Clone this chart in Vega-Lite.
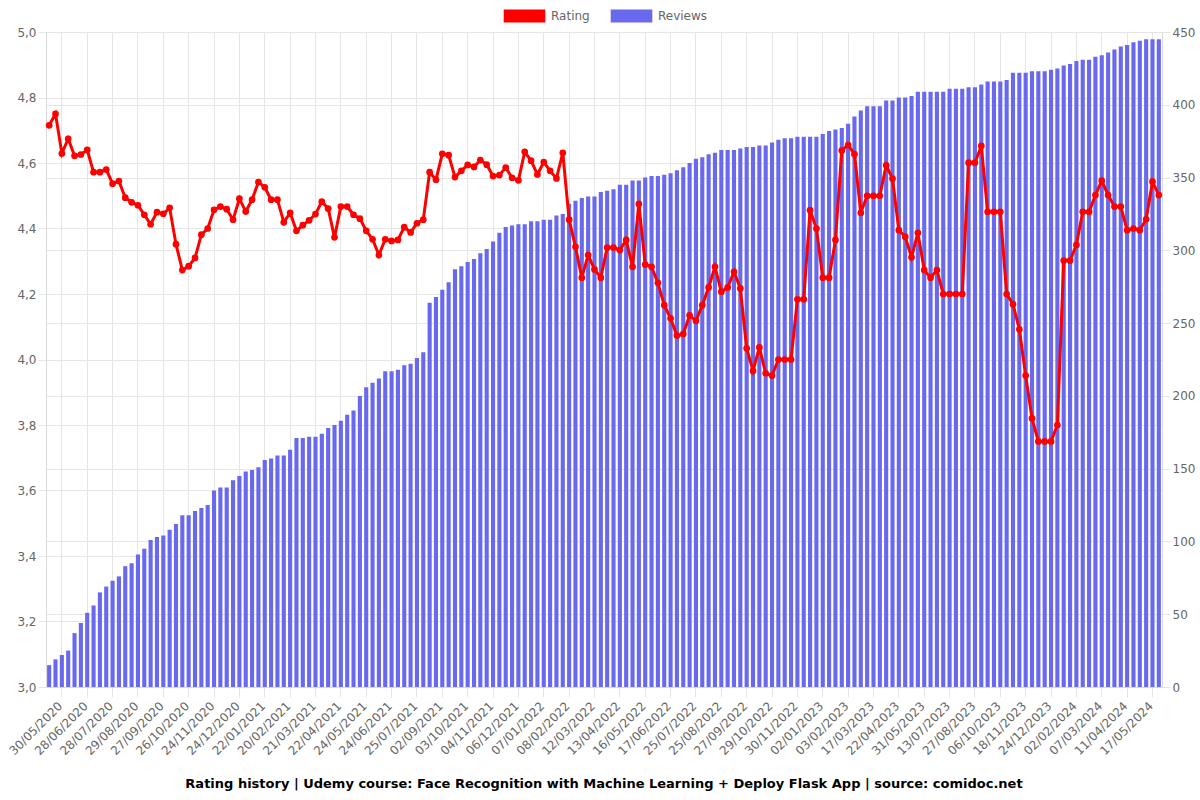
{
  "$schema": "https://vega.github.io/schema/vega-lite/v6.json",
  "width": 1116,
  "height": 655,
  "autosize": {"type": "none"},
  "padding": {"left": 46, "top": 32, "right": 38, "bottom": 113},
  "background": "white",
  "config": {
    "font": "DejaVu Sans",
    "view": {"stroke": null},
    "axis": {"labelColor": "#666666", "labelFontSize": 12, "gridColor": "#e6e6e6", "tickColor": "#e6e6e6", "domainColor": "#d9d9d9", "tickSize": 8, "labelPadding": 2}
  },
  "title": {"text": "Rating history | Udemy course: Face Recognition with Machine Learning + Deploy Flask  App | source: comidoc.net", "orient": "bottom", "anchor": "middle", "fontSize": 13, "fontWeight": "bold", "color": "#000000", "offset": 21},
  "data": {"values": [
    {"date":"16/05/2020","rating":4.715,"reviews":15},
    {"date":"23/05/2020","rating":4.75,"reviews":19},
    {"date":"30/05/2020","rating":4.629,"reviews":22},
    {"date":"07/06/2020","rating":4.674,"reviews":25},
    {"date":"14/06/2020","rating":4.622,"reviews":37},
    {"date":"21/06/2020","rating":4.626,"reviews":44},
    {"date":"28/06/2020","rating":4.64,"reviews":51},
    {"date":"06/07/2020","rating":4.572,"reviews":56},
    {"date":"13/07/2020","rating":4.572,"reviews":65},
    {"date":"21/07/2020","rating":4.58,"reviews":69},
    {"date":"28/07/2020","rating":4.537,"reviews":73},
    {"date":"05/08/2020","rating":4.545,"reviews":76},
    {"date":"13/08/2020","rating":4.494,"reviews":83},
    {"date":"21/08/2020","rating":4.48,"reviews":85},
    {"date":"29/08/2020","rating":4.471,"reviews":91},
    {"date":"05/09/2020","rating":4.442,"reviews":95},
    {"date":"12/09/2020","rating":4.413,"reviews":101},
    {"date":"20/09/2020","rating":4.45,"reviews":103},
    {"date":"27/09/2020","rating":4.445,"reviews":104},
    {"date":"04/10/2020","rating":4.463,"reviews":108},
    {"date":"11/10/2020","rating":4.352,"reviews":112},
    {"date":"19/10/2020","rating":4.273,"reviews":118},
    {"date":"26/10/2020","rating":4.285,"reviews":118},
    {"date":"02/11/2020","rating":4.31,"reviews":121},
    {"date":"09/11/2020","rating":4.381,"reviews":123},
    {"date":"17/11/2020","rating":4.4,"reviews":125},
    {"date":"24/11/2020","rating":4.457,"reviews":135},
    {"date":"02/12/2020","rating":4.467,"reviews":137},
    {"date":"09/12/2020","rating":4.459,"reviews":137},
    {"date":"17/12/2020","rating":4.427,"reviews":142},
    {"date":"24/12/2020","rating":4.491,"reviews":145},
    {"date":"31/12/2020","rating":4.452,"reviews":148},
    {"date":"07/01/2021","rating":4.488,"reviews":149},
    {"date":"15/01/2021","rating":4.542,"reviews":151},
    {"date":"22/01/2021","rating":4.526,"reviews":156},
    {"date":"29/01/2021","rating":4.488,"reviews":157},
    {"date":"05/02/2021","rating":4.488,"reviews":159},
    {"date":"13/02/2021","rating":4.419,"reviews":159},
    {"date":"20/02/2021","rating":4.448,"reviews":163},
    {"date":"27/02/2021","rating":4.393,"reviews":171},
    {"date":"06/03/2021","rating":4.41,"reviews":171},
    {"date":"14/03/2021","rating":4.425,"reviews":172},
    {"date":"21/03/2021","rating":4.444,"reviews":172},
    {"date":"29/03/2021","rating":4.482,"reviews":174},
    {"date":"06/04/2021","rating":4.461,"reviews":178},
    {"date":"14/04/2021","rating":4.373,"reviews":180},
    {"date":"22/04/2021","rating":4.467,"reviews":183},
    {"date":"30/04/2021","rating":4.467,"reviews":187},
    {"date":"08/05/2021","rating":4.442,"reviews":190},
    {"date":"16/05/2021","rating":4.43,"reviews":200},
    {"date":"24/05/2021","rating":4.393,"reviews":206},
    {"date":"01/06/2021","rating":4.367,"reviews":209},
    {"date":"08/06/2021","rating":4.319,"reviews":212},
    {"date":"16/06/2021","rating":4.367,"reviews":217},
    {"date":"24/06/2021","rating":4.362,"reviews":217},
    {"date":"02/07/2021","rating":4.365,"reviews":218},
    {"date":"09/07/2021","rating":4.404,"reviews":221},
    {"date":"17/07/2021","rating":4.388,"reviews":222},
    {"date":"25/07/2021","rating":4.416,"reviews":226},
    {"date":"04/08/2021","rating":4.427,"reviews":230},
    {"date":"14/08/2021","rating":4.572,"reviews":264},
    {"date":"24/08/2021","rating":4.549,"reviews":268},
    {"date":"02/09/2021","rating":4.628,"reviews":273},
    {"date":"10/09/2021","rating":4.624,"reviews":278},
    {"date":"17/09/2021","rating":4.557,"reviews":287},
    {"date":"25/09/2021","rating":4.576,"reviews":289},
    {"date":"03/10/2021","rating":4.594,"reviews":292},
    {"date":"11/10/2021","rating":4.588,"reviews":294},
    {"date":"19/10/2021","rating":4.609,"reviews":298},
    {"date":"27/10/2021","rating":4.595,"reviews":301},
    {"date":"04/11/2021","rating":4.56,"reviews":306},
    {"date":"12/11/2021","rating":4.563,"reviews":312},
    {"date":"20/11/2021","rating":4.586,"reviews":316},
    {"date":"28/11/2021","rating":4.555,"reviews":317},
    {"date":"06/12/2021","rating":4.547,"reviews":318},
    {"date":"14/12/2021","rating":4.634,"reviews":318},
    {"date":"22/12/2021","rating":4.607,"reviews":320},
    {"date":"30/12/2021","rating":4.565,"reviews":320},
    {"date":"07/01/2022","rating":4.603,"reviews":321},
    {"date":"15/01/2022","rating":4.576,"reviews":321},
    {"date":"23/01/2022","rating":4.553,"reviews":324},
    {"date":"31/01/2022","rating":4.631,"reviews":325},
    {"date":"08/02/2022","rating":4.427,"reviews":332},
    {"date":"16/02/2022","rating":4.344,"reviews":334},
    {"date":"24/02/2022","rating":4.25,"reviews":336},
    {"date":"04/03/2022","rating":4.319,"reviews":337},
    {"date":"12/03/2022","rating":4.275,"reviews":337},
    {"date":"20/03/2022","rating":4.25,"reviews":340},
    {"date":"28/03/2022","rating":4.342,"reviews":341},
    {"date":"05/04/2022","rating":4.342,"reviews":342},
    {"date":"13/04/2022","rating":4.334,"reviews":345},
    {"date":"21/04/2022","rating":4.365,"reviews":345},
    {"date":"29/04/2022","rating":4.283,"reviews":348},
    {"date":"07/05/2022","rating":4.475,"reviews":348},
    {"date":"16/05/2022","rating":4.29,"reviews":350},
    {"date":"24/05/2022","rating":4.283,"reviews":351},
    {"date":"01/06/2022","rating":4.234,"reviews":351},
    {"date":"09/06/2022","rating":4.166,"reviews":352},
    {"date":"17/06/2022","rating":4.126,"reviews":353},
    {"date":"26/06/2022","rating":4.073,"reviews":355},
    {"date":"06/07/2022","rating":4.078,"reviews":357},
    {"date":"15/07/2022","rating":4.135,"reviews":360},
    {"date":"25/07/2022","rating":4.118,"reviews":363},
    {"date":"02/08/2022","rating":4.166,"reviews":364},
    {"date":"10/08/2022","rating":4.22,"reviews":366},
    {"date":"17/08/2022","rating":4.283,"reviews":367},
    {"date":"25/08/2022","rating":4.207,"reviews":369},
    {"date":"02/09/2022","rating":4.22,"reviews":369},
    {"date":"10/09/2022","rating":4.268,"reviews":369},
    {"date":"19/09/2022","rating":4.217,"reviews":370},
    {"date":"27/09/2022","rating":4.034,"reviews":371},
    {"date":"05/10/2022","rating":3.965,"reviews":371},
    {"date":"13/10/2022","rating":4.037,"reviews":372},
    {"date":"21/10/2022","rating":3.958,"reviews":372},
    {"date":"29/10/2022","rating":3.951,"reviews":374},
    {"date":"06/11/2022","rating":4.0,"reviews":376},
    {"date":"14/11/2022","rating":4.0,"reviews":377},
    {"date":"22/11/2022","rating":4.0,"reviews":377},
    {"date":"30/11/2022","rating":4.184,"reviews":378},
    {"date":"08/12/2022","rating":4.184,"reviews":378},
    {"date":"16/12/2022","rating":4.456,"reviews":378},
    {"date":"25/12/2022","rating":4.4,"reviews":378},
    {"date":"02/01/2023","rating":4.25,"reviews":380},
    {"date":"10/01/2023","rating":4.25,"reviews":382},
    {"date":"18/01/2023","rating":4.365,"reviews":383},
    {"date":"26/01/2023","rating":4.638,"reviews":384},
    {"date":"03/02/2023","rating":4.655,"reviews":387},
    {"date":"14/02/2023","rating":4.627,"reviews":392},
    {"date":"24/02/2023","rating":4.448,"reviews":396},
    {"date":"07/03/2023","rating":4.5,"reviews":399},
    {"date":"17/03/2023","rating":4.5,"reviews":399},
    {"date":"26/03/2023","rating":4.5,"reviews":399},
    {"date":"04/04/2023","rating":4.593,"reviews":403},
    {"date":"13/04/2023","rating":4.552,"reviews":403},
    {"date":"22/04/2023","rating":4.395,"reviews":405},
    {"date":"02/05/2023","rating":4.375,"reviews":405},
    {"date":"12/05/2023","rating":4.312,"reviews":406},
    {"date":"21/05/2023","rating":4.387,"reviews":409},
    {"date":"31/05/2023","rating":4.273,"reviews":409},
    {"date":"11/06/2023","rating":4.25,"reviews":409},
    {"date":"22/06/2023","rating":4.273,"reviews":409},
    {"date":"02/07/2023","rating":4.2,"reviews":409},
    {"date":"13/07/2023","rating":4.2,"reviews":411},
    {"date":"24/07/2023","rating":4.2,"reviews":411},
    {"date":"04/08/2023","rating":4.2,"reviews":411},
    {"date":"16/08/2023","rating":4.601,"reviews":412},
    {"date":"27/08/2023","rating":4.601,"reviews":412},
    {"date":"06/09/2023","rating":4.652,"reviews":414},
    {"date":"16/09/2023","rating":4.451,"reviews":416},
    {"date":"26/09/2023","rating":4.451,"reviews":416},
    {"date":"06/10/2023","rating":4.451,"reviews":416},
    {"date":"17/10/2023","rating":4.2,"reviews":417},
    {"date":"28/10/2023","rating":4.169,"reviews":422},
    {"date":"07/11/2023","rating":4.092,"reviews":422},
    {"date":"18/11/2023","rating":3.951,"reviews":422},
    {"date":"27/11/2023","rating":3.82,"reviews":423},
    {"date":"06/12/2023","rating":3.75,"reviews":423},
    {"date":"15/12/2023","rating":3.75,"reviews":423},
    {"date":"24/12/2023","rating":3.75,"reviews":424},
    {"date":"03/01/2024","rating":3.8,"reviews":425},
    {"date":"13/01/2024","rating":4.302,"reviews":427},
    {"date":"23/01/2024","rating":4.302,"reviews":428},
    {"date":"02/02/2024","rating":4.35,"reviews":430},
    {"date":"10/02/2024","rating":4.451,"reviews":431},
    {"date":"19/02/2024","rating":4.451,"reviews":431},
    {"date":"27/02/2024","rating":4.502,"reviews":433},
    {"date":"07/03/2024","rating":4.546,"reviews":434},
    {"date":"16/03/2024","rating":4.502,"reviews":436},
    {"date":"25/03/2024","rating":4.467,"reviews":438},
    {"date":"02/04/2024","rating":4.467,"reviews":440},
    {"date":"11/04/2024","rating":4.395,"reviews":441},
    {"date":"20/04/2024","rating":4.4,"reviews":443},
    {"date":"29/04/2024","rating":4.395,"reviews":444},
    {"date":"08/05/2024","rating":4.428,"reviews":445},
    {"date":"17/05/2024","rating":4.543,"reviews":445},
    {"date":"26/05/2024","rating":4.502,"reviews":445}
  ]},
  "encoding": {
    "x": {
      "field": "date", "type": "ordinal", "sort": null,
      "scale": {"paddingInner": 0.35, "paddingOuter": 0.175},
      "axis": {
        "title": null, "labelAngle": -45, "grid": true, "tickSize": 10, "labelPadding": 3, "labelOffset": -5,
        "values": ["30/05/2020","28/06/2020","28/07/2020","29/08/2020","27/09/2020","26/10/2020","24/11/2020","24/12/2020","22/01/2021","20/02/2021","21/03/2021","22/04/2021","24/05/2021","24/06/2021","25/07/2021","02/09/2021","03/10/2021","04/11/2021","06/12/2021","07/01/2022","08/02/2022","12/03/2022","13/04/2022","16/05/2022","17/06/2022","25/07/2022","25/08/2022","27/09/2022","29/10/2022","30/11/2022","02/01/2023","03/02/2023","17/03/2023","22/04/2023","31/05/2023","13/07/2023","27/08/2023","06/10/2023","18/11/2023","24/12/2023","02/02/2024","07/03/2024","11/04/2024","17/05/2024"]
      }
    }
  },
  "layer": [
    {
      "mark": {"type": "bar"},
      "encoding": {
        "y": {"field": "reviews", "type": "quantitative", "scale": {"domain": [0, 450], "nice": false},
              "axis": {"orient": "right", "title": null, "values": [0,50,100,150,200,250,300,350,400,450], "grid": true}},
        "color": {"datum": "Reviews", "type": "nominal",
                  "scale": {"domain": ["Rating", "Reviews"], "range": ["#ff0000", "#6969ee"]},
                  "legend": {"title": null, "orient": "none", "legendX": 472, "legendY": -22.5, "direction": "horizontal",
                             "symbolType": "M-3.2,-1H3.2V1H-3.2Z", "symbolSize": 169, "symbolStrokeWidth": 0,
                             "labelFontSize": 12, "labelColor": "#666666", "labelOffset": 20, "columnPadding": 20}}
      }
    },
    {
      "mark": {"type": "line", "strokeWidth": 3, "point": {"filled": true, "size": 45}},
      "encoding": {
        "y": {"field": "rating", "type": "quantitative", "scale": {"domain": [3, 5], "nice": false, "zero": false},
              "axis": {"orient": "left", "title": null, "values": [3,3.2,3.4,3.6,3.8,4,4.2,4.4,4.6,4.8,5], "grid": true,
                       "labelExpr": "replace(format(datum.value, '.1f'), '.', ',')"}},
        "color": {"datum": "Rating", "type": "nominal", "legend": null}
      }
    }
  ],
  "resolve": {"scale": {"y": "independent"}}
}
